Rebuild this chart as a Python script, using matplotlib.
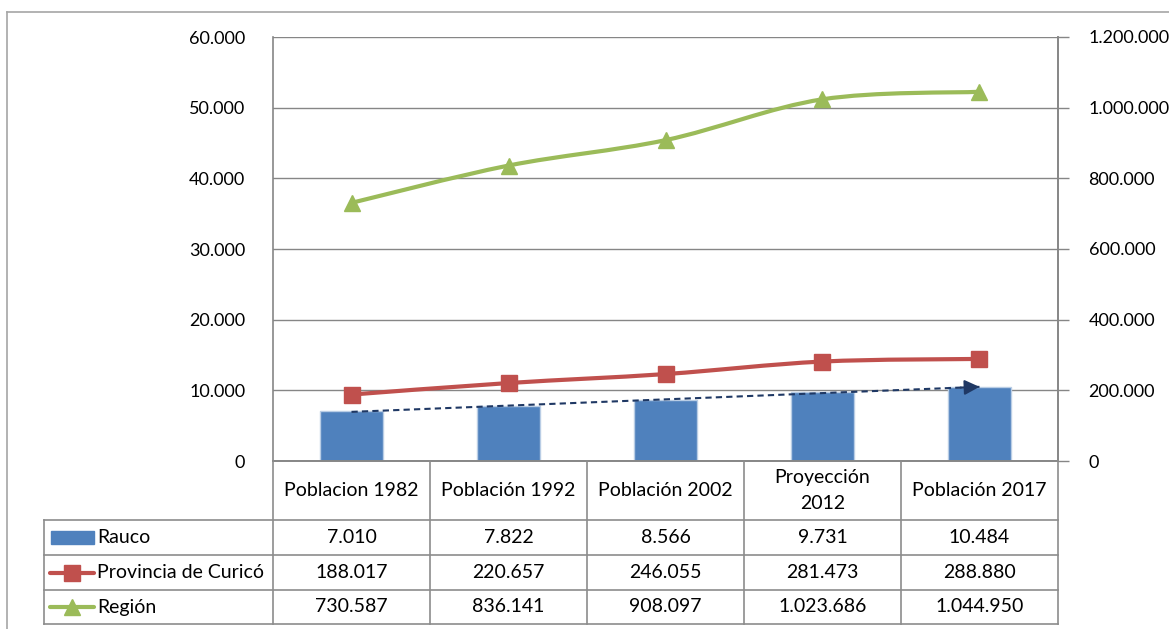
import numpy as np
import matplotlib
matplotlib.use("Agg")
import matplotlib.pyplot as plt
from matplotlib.path import Path
from matplotlib.patches import PathPatch, Rectangle
from matplotlib.lines import Line2D
from matplotlib.ticker import FuncFormatter, MultipleLocator

plt.rcParams['font.family'] = ['Lato', 'DejaVu Sans']

# ── data ─────────────────────────────────────────────────────────────────────
categories = ['Poblacion 1982', 'Población 1992', 'Población 2002',
              'Proyección\n2012', 'Población 2017']
rauco      = [7010, 7822, 8566, 9731, 10484]
provincia  = [188017, 220657, 246055, 281473, 288880]
region     = [730587, 836141, 908097, 1023686, 1044950]
series_names = ['Rauco', 'Provincia de Curicó', 'Región']
# ─────────────────────────────────────────────────────────────────────────────

BLUE, RED, GREEN = '#4F81BD', '#C0504D', '#9BBB59'
NAVY  = '#1F3864'
GRID  = '#868686'
FS    = 13     # axis tick labels
TFS   = 14     # data table text

W, H = 1169, 629
fig = plt.figure(figsize=(W / 100, H / 100), dpi=100)

def fx(px):  # pixel -> figure fraction
    return px / W

def fy(py):
    return 1 - py / H

L, R, T, B = 273, 1058, 37, 461
ax = fig.add_axes([fx(L), fy(B), fx(R - L), (B - T) / H])
ax2 = ax.twinx()

def dots(v, pos=None):
    return f"{v:,.0f}".replace(',', '.')

x = np.arange(len(categories))

# bars + gridlines on primary axis
ax.set_axisbelow(True)
ax.yaxis.grid(True, color=GRID, lw=1)
ax.bar(x, rauco, width=0.4, color=BLUE, edgecolor='#B9CDE5', lw=1, zorder=2)

# linear trend on Rauco (dashed, arrow at end)
k, b0 = np.polyfit(x, rauco, 1)
trend = k * x + b0
ax.plot([x[0], x[-1]], [trend[0], trend[-1]], ls=(0, (3, 2)), color=NAVY, lw=1.5, zorder=3)
ax.annotate('', xy=(x[-1], trend[-1]), xytext=(x[-1] - 0.12, trend[-1] - 0.12 * k),
            arrowprops=dict(arrowstyle='-|>,head_length=0.9,head_width=0.45',
                            color=NAVY, lw=1.5, shrinkA=0, shrinkB=0), zorder=3)

ax.set_xlim(-0.5, len(categories) - 0.5)
ax.set_ylim(0, 60000)
ax.yaxis.set_major_locator(MultipleLocator(10000))
ax.yaxis.set_major_formatter(FuncFormatter(dots))
ax.tick_params(axis='y', length=0, pad=20, labelsize=FS)
ax.set_xticks([])

ax2.set_ylim(0, 1200000)
ax2.yaxis.set_major_locator(MultipleLocator(200000))
ax2.yaxis.set_major_formatter(FuncFormatter(dots))
ax2.tick_params(axis='y', length=8, width=1, color=GRID, pad=14, labelsize=FS)

for a in (ax, ax2):
    for s in a.spines.values():
        s.set_color(GRID)
        s.set_linewidth(1.2)
    a.spines['top'].set_visible(False)
ax2.spines['left'].set_visible(False)


def smooth_path(xs, ys):
    # Excel-like smoothed line as cubic bezier segments through the points
    pts = np.column_stack([xs, ys]).astype(float)
    ext = np.vstack([pts[0], pts, pts[-1]])
    verts = [pts[0]]
    codes = [Path.MOVETO]
    for i in range(len(pts) - 1):
        p0, p1, p2, p3 = ext[i], ext[i + 1], ext[i + 2], ext[i + 3]
        verts += [p1 + (p2 - p0) / 6, p2 - (p3 - p1) / 6, p2]
        codes += [Path.CURVE4] * 3
    return Path(verts, codes)


for vals, col, mk, ms in [(provincia, RED, 's', 11), (region, GREEN, '^', 12)]:
    ax2.add_patch(PathPatch(smooth_path(x, vals), fill=False, edgecolor=col,
                            lw=3, capstyle='round', zorder=3))
    ax2.plot(x, vals, ls='none', marker=mk, ms=ms, color=col, zorder=4)

# ── data table under the plot ────────────────────────────────────────────────
tline = dict(color='#8c8c8c', lw=1.2)
row_y = [461, 520, 555, 590, 624]
col_x = [L + (R - L) * i / len(categories) for i in range(len(categories) + 1)]
lab_x0 = 44

for xv in col_x:
    fig.add_artist(Line2D([fx(xv)] * 2, [fy(row_y[0]), fy(row_y[-1])], **tline))
fig.add_artist(Line2D([fx(lab_x0)] * 2, [fy(row_y[1]), fy(row_y[-1])], **tline))
for yv in row_y[1:]:
    fig.add_artist(Line2D([fx(lab_x0), fx(R)], [fy(yv)] * 2, **tline))

for i, cat in enumerate(categories):
    cx = (col_x[i] + col_x[i + 1]) / 2
    fig.text(fx(cx), fy((row_y[0] + row_y[1]) / 2), cat, ha='center', va='center',
             fontsize=TFS, linespacing=1.65)

rows = [rauco, provincia, region]
for r, (name, vals) in enumerate(zip(series_names, rows)):
    cy = (row_y[r + 1] + row_y[r + 2]) / 2
    fig.text(fx(97), fy(cy), name, ha='left', va='center', fontsize=TFS)
    for i, v in enumerate(vals):
        cx = (col_x[i] + col_x[i + 1]) / 2
        fig.text(fx(cx), fy(cy), dots(v), ha='center', va='center', fontsize=TFS)

# legend keys in the row label cells
ky = [(row_y[k] + row_y[k + 1]) / 2 for k in (1, 2, 3)]
fig.add_artist(Rectangle((fx(51), fy(ky[0] + 6)), fx(43), 13 / H, color=BLUE))
fig.add_artist(Line2D([fx(50), fx(72), fx(94)], [fy(ky[1])] * 3, color=RED, lw=3,
                      marker='s', ms=11, markevery=[1], solid_capstyle='round'))
fig.add_artist(Line2D([fx(50), fx(72), fx(94)], [fy(ky[2])] * 3, color=GREEN, lw=3,
                      marker='^', ms=12, markevery=[1], solid_capstyle='round'))

# outer chart border (left and top edges visible)
border = dict(color='#a6a6a6', lw=1.2)
fig.add_artist(Line2D([fx(7), fx(7)], [fy(12), 0], **border))
fig.add_artist(Line2D([fx(7), 1], [fy(12), fy(12)], **border))

fig.savefig('out.png', dpi=100)
